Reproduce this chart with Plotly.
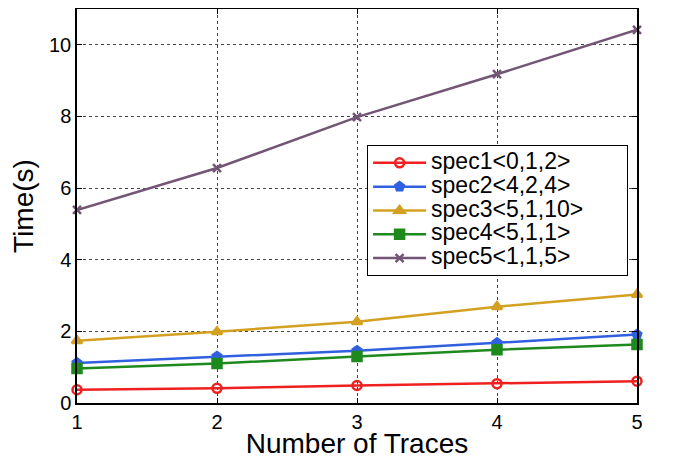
import plotly.graph_objects as go

x_vals = [1, 2, 3, 4, 5]
spec1 = [0.37, 0.41, 0.49, 0.54, 0.61]
spec2 = [1.12, 1.30, 1.46, 1.68, 1.91]
spec3 = [1.74, 1.99, 2.27, 2.69, 3.03]
spec4 = [0.96, 1.10, 1.30, 1.49, 1.63]
spec5 = [5.39, 6.56, 7.98, 9.18, 10.42]

names = ["spec1<0,1,2>", "spec2<4,2,4>", "spec3<5,1,10>", "spec4<5,1,1>", "spec5<1,1,5>"]
series = [spec1, spec2, spec3, spec4, spec5]
colors = ["#f02020", "#3060e0", "#d4a021", "#1e8a1e", "#735575"]
symbols = ["circle-open", "pentagon", "triangle-up", "square", "x-thin-open"]

FONT = "Liberation Sans, Arial, Helvetica"

fig = go.Figure()
for n, s, c, sym in zip(names, series, colors, symbols):
    label = n.replace("<", "&lt;").replace(">", "&gt;")
    fig.add_trace(go.Scatter(
        x=x_vals, y=s,
        name='<span style="font-size:23px">' + label + '\u00a0' * 6 + '</span>',
        mode="lines+markers",
        line=dict(color=c, width=2.5),
        marker=dict(symbol=sym, size=9 if sym != "x-thin-open" else 8, color=c,
                    line=dict(color=c, width=2.5)),
        cliponaxis=False,
    ))

axis_common = dict(
    showline=True, linecolor="black", linewidth=1.5, mirror="ticks",
    ticks="inside", ticklen=5, tickcolor="black",
    showgrid=True, gridcolor="#444444", griddash="dot", gridwidth=1,
    zeroline=False,
    tickfont=dict(family=FONT, size=20, color="black"),
)

fig.update_xaxes(range=[1, 5], tickvals=[1, 2, 3, 4, 5], **axis_common,
                 title=dict(text="Number of Traces", font=dict(family=FONT, size=28, color="black"), standoff=6))
fig.update_yaxes(range=[0, 11], tickvals=[0, 2, 4, 6, 8, 10], **axis_common,
                 title=dict(text="Time(s)", font=dict(family=FONT, size=28, color="black"), standoff=8))

# page has an 8px body margin, so the figure is sized to fit the 678x459 window
fig.update_layout(
    width=670, height=451,
    margin=dict(l=69, r=41, t=1, b=56, autoexpand=False),
    plot_bgcolor="white", paper_bgcolor="white",
    legend=dict(x=0.518, y=0.655, xanchor="left", yanchor="top",
                bgcolor="white", bordercolor="black", borderwidth=1,
                font=dict(family=FONT, size=16, color="black"),
                tracegroupgap=0, itemwidth=53),
)

fig.write_html("out.html")
